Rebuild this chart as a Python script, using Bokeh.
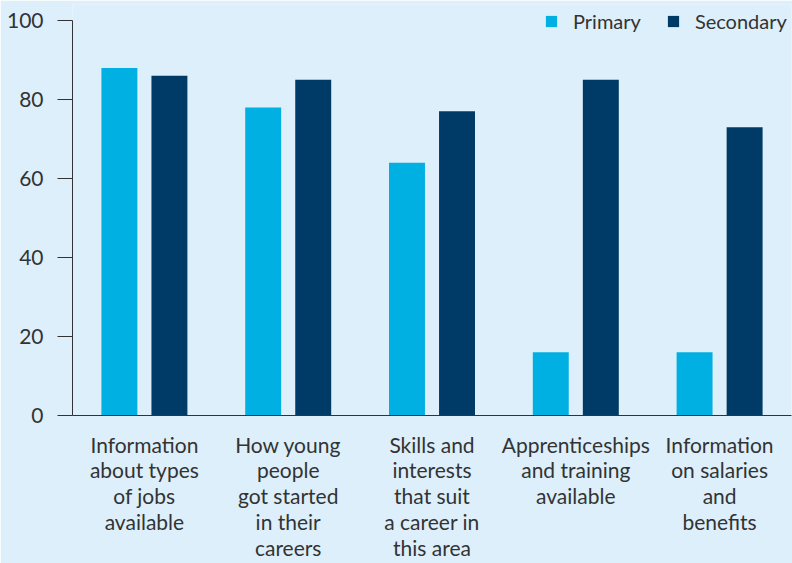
from bokeh.plotting import figure
from bokeh.models import ColumnDataSource, FactorRange, Range1d, Legend, LegendItem, FixedTicker
from bokeh.transform import dodge
from bokeh.embed import file_html
from bokeh.resources import INLINE

categories = [
    "Information\nabout types\nof jobs\navailable",
    "How young\npeople\ngot started\nin their\ncareers",
    "Skills and\ninterests\nthat suit\na career in\nthis area",
    "Apprenticeships\nand training\navailable",
    "Information\non salaries\nand\nbenefits",
]
primary = [88, 78, 64, 16, 16]
secondary = [86, 85, 77, 85, 73]
y_ticks = [0, 20, 40, 60, 80, 100]
series_names = ["Primary", "Secondary"]

BG = "#DCEFFB"
C1 = "#00B0E2"
C2 = "#003A66"
TXT = "#333333"
FONT = "Lato"

src = ColumnDataSource(dict(cat=categories, primary=primary, secondary=secondary))

p = figure(
    x_range=FactorRange(*categories, range_padding=0),
    y_range=Range1d(0, 104.05),
    width=792, height=563,
    output_backend="svg", toolbar_location=None,
    background_fill_color=BG, border_fill_color=BG,
    min_border_left=72, min_border_right=1, min_border_top=4, min_border_bottom=148,
)
p.outline_line_color = None
p.xgrid.grid_line_color = None
p.ygrid.grid_line_color = None

r1 = p.vbar(x=dodge("cat", -0.174, range=p.x_range), top="primary", width=0.25,
            source=src, fill_color=C1, line_color=None)
r2 = p.vbar(x=dodge("cat", 0.174, range=p.x_range), top="secondary", width=0.25,
            source=src, fill_color=C2, line_color=None)

# y axis
ya = p.yaxis[0]
ya.ticker = FixedTicker(ticks=y_ticks)
ya.bounds = (0, 100)
ya.minor_tick_line_color = None
ya.major_tick_out = 15
ya.major_tick_in = 0
ya.major_tick_line_color = TXT
ya.axis_line_color = TXT
ya.major_label_standoff = 14
ya.major_label_text_font = FONT
ya.major_label_text_font_size = "21px"
ya.major_label_text_color = TXT

# x axis
xa = p.xaxis[0]
xa.major_tick_line_color = None
xa.major_tick_out = 0
xa.major_tick_in = 0
xa.axis_line_color = TXT
xa.major_label_standoff = 16
xa.major_label_text_font = FONT
xa.major_label_text_font_size = "21px"
xa.major_label_text_color = TXT
xa.major_label_text_line_height = 1.03

legend = Legend(
    items=[LegendItem(label=series_names[0], renderers=[r1]),
           LegendItem(label=series_names[1], renderers=[r2])],
    orientation="horizontal",
    location=(472, 382),
    background_fill_alpha=0, border_line_color=None,
    padding=0, margin=0, spacing=25, label_standoff=15,
    glyph_width=14, glyph_height=14,
    label_text_font=FONT, label_text_font_size="20px", label_text_color=TXT,
)
p.add_layout(legend, "center")

html = file_html(p, INLINE)
html = html.replace("<body>", '<body style="margin:0;background:%s">' % BG, 1)
open("out.html", "w").write(html)
